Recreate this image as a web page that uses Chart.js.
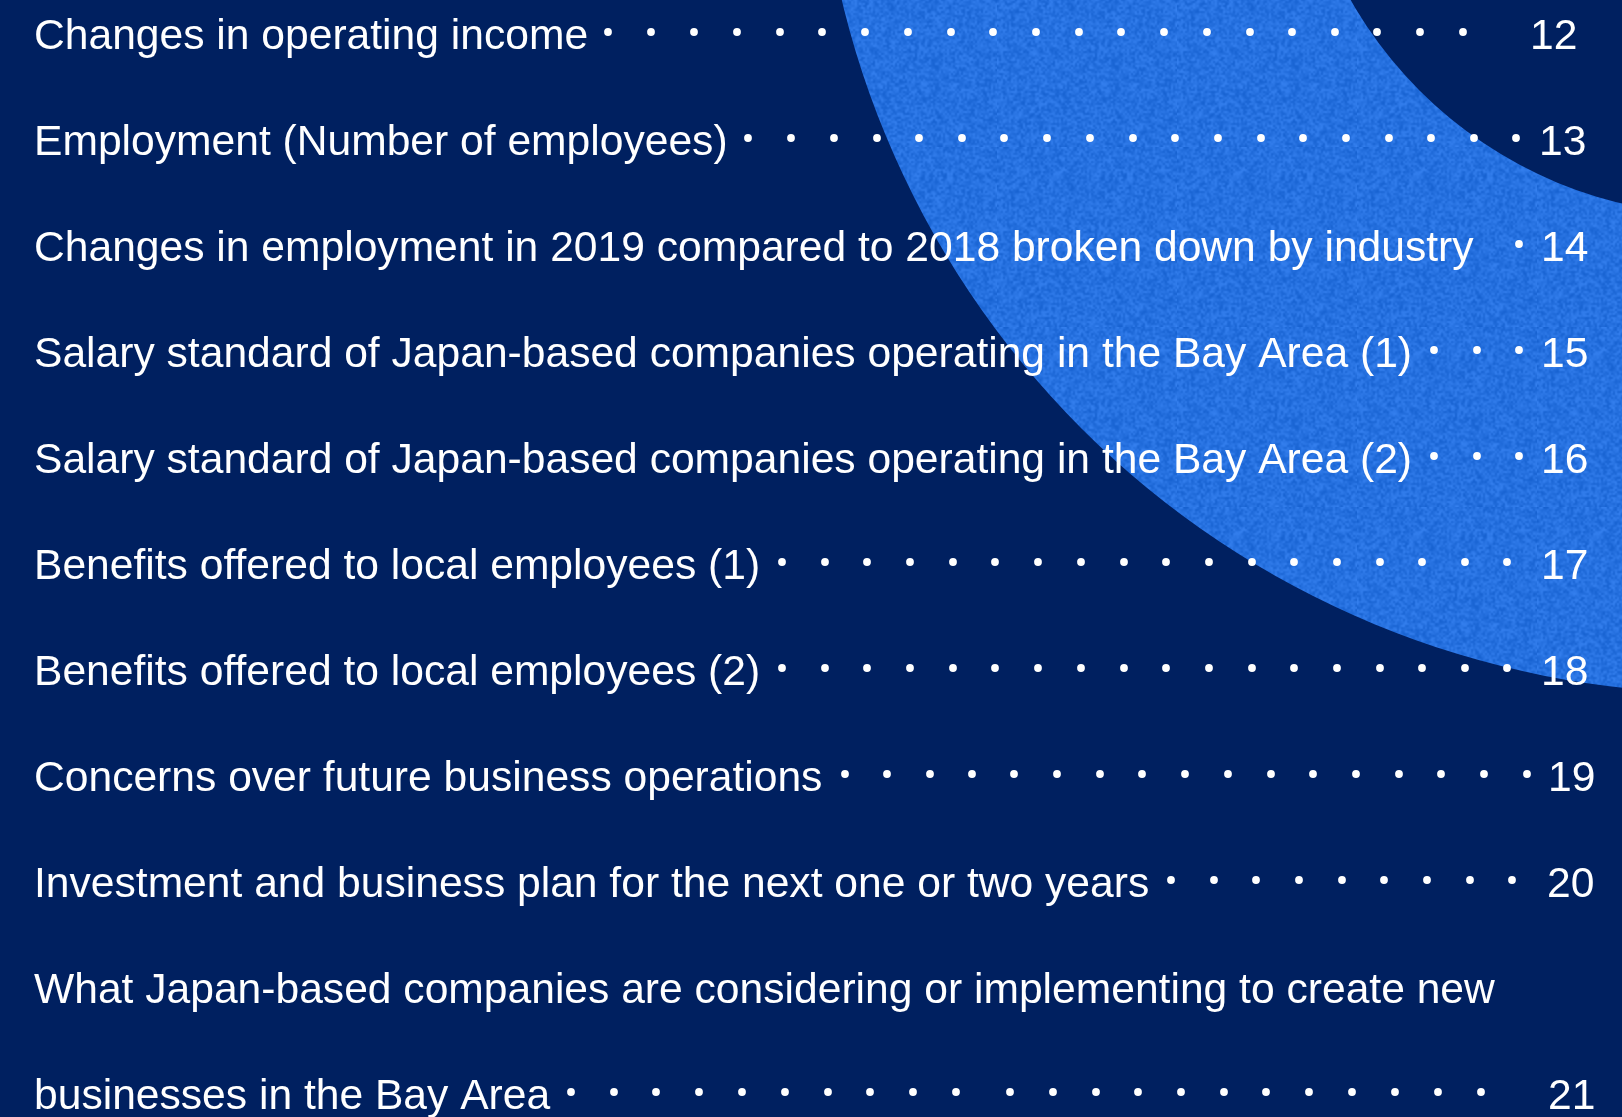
<!DOCTYPE html>
<html>
<head>
<meta charset="utf-8">
<script src="https://cdn.jsdelivr.net/npm/chart.js@4.4.0/dist/chart.umd.min.js"></script>
<style>
  html, body { margin: 0; padding: 0; background: #002060; overflow: hidden; }
  #page { position: relative; width: 1622px; height: 1117px; overflow: hidden; background: #002060; }
  #arcBox { position: absolute; left: 817px; top: -1113px; width: 1806px; height: 1806px; }
  #tocBox { position: absolute; left: 0; top: 0; width: 1622px; height: 1117px; }
</style>
</head>
<body>
<div id="page">
  <div id="arcBox"><canvas id="arc"></canvas></div>
  <div id="tocBox"><canvas id="toc"></canvas></div>
</div>
<script>
// contents entries, one per text row (row 9 is the first half of a wrapped title)
const titles = [
    'Changes in operating income',
    'Employment (Number of employees)',
    'Changes in employment in 2019 compared to 2018 broken down by industry',
    'Salary standard of Japan-based companies operating in the Bay Area (1)',
    'Salary standard of Japan-based companies operating in the Bay Area (2)',
    'Benefits offered to local employees (1)',
    'Benefits offered to local employees (2)',
    'Concerns over future business operations',
    'Investment and business plan for the next one or two years',
    'What Japan-based companies are considering or implementing to create new',
    'businesses in the Bay Area'
];
const pages = ['12', '13', '14', '15', '16', '17', '18', '19', '20', '', '21'];
const pageX = [1530, 1539, 1541, 1541, 1541, 1541, 1541, 1548, 1547, 0, 1548];

// leader dots, x along the row
const leaderDots = [
    [608, 651, 694, 737, 780, 822, 865, 908, 951, 993, 1036, 1079, 1121, 1164, 1207, 1250, 1292, 1335, 1377, 1420, 1463],
    [748, 791, 834, 877, 919, 962, 1004, 1047, 1090, 1133, 1175, 1218, 1261, 1303, 1346, 1389, 1431, 1474, 1516],
    [1519],
    [1434, 1477, 1519],
    [1434, 1477, 1519],
    [782, 825, 867, 910, 953, 995, 1038, 1081, 1124, 1166, 1209, 1252, 1294, 1337, 1380, 1422, 1465, 1507],
    [782, 825, 867, 910, 953, 995, 1038, 1081, 1124, 1166, 1209, 1252, 1294, 1337, 1380, 1422, 1465, 1507],
    [845, 887, 930, 972, 1014, 1057, 1100, 1142, 1185, 1228, 1271, 1313, 1356, 1399, 1441, 1484, 1527],
    [1171, 1214, 1256, 1299, 1342, 1384, 1427, 1470, 1512],
    [],
    [571, 614, 656, 699, 742, 785, 828, 870, 913, 956, 1010, 1053, 1096, 1138, 1181, 1224, 1266, 1309, 1352, 1395, 1438, 1481]
];

const titleX = 34;
const rowTop = 32;     // first row's dot line, px
const rowStep = 106;   // px between rows
const baselineShift = 16.5;

// grainy blue fill for the arc
function grain() {
    const small = document.createElement('canvas');
    small.width = small.height = 90;
    const sg = small.getContext('2d');
    const img = sg.createImageData(90, 90);
    let s = 12345;
    for (let p = 0; p < img.data.length; p += 4) {
        s = (s * 16807) % 2147483647;
        const n = (s / 2147483647 - 0.5) * 30;
        img.data[p] = 38 + n;
        img.data[p + 1] = 113 + n;
        img.data[p + 2] = 224 + n;
        img.data[p + 3] = 255;
    }
    sg.putImageData(img, 0, 0);
    const c = document.createElement('canvas');
    c.width = c.height = 180;
    const g = c.getContext('2d');
    g.imageSmoothingEnabled = true;
    g.drawImage(small, 0, 0, 180, 180);
    return g.createPattern(c, 'repeat');
}

new Chart(document.getElementById('arc'), {
    type: 'doughnut',
    data: {
        labels: ['arc'],
        datasets: [{
            data: [1],
            backgroundColor: grain(),
            borderWidth: 0,
            hoverOffset: 0
        }]
    },
    options: {
        responsive: true,
        maintainAspectRatio: false,
        animation: false,
        events: [],
        cutout: (425 / 903 * 100) + '%',
        layout: { padding: 0 },
        plugins: { legend: { display: false }, tooltip: { enabled: false } }
    }
});

const tocText = {
    id: 'tocText',
    afterDatasetsDraw(chart) {
        const { ctx, scales: { x, y } } = chart;
        ctx.save();
        ctx.fillStyle = '#ffffff';
        ctx.font = '42.6px "Liberation Sans", Arial, sans-serif';
        ctx.textBaseline = 'alphabetic';
        titles.forEach((t, i) => {
            const yy = y.getPixelForValue(i) + baselineShift;
            ctx.fillText(t, x.getPixelForValue(titleX), yy);
            if (pages[i]) {
                ctx.fillText(pages[i], x.getPixelForValue(pageX[i]), yy);
            }
        });
        ctx.restore();
    }
};

const dots = [];
leaderDots.forEach((row, i) => {
    row.forEach(v => dots.push({ x: v, y: i }));
});

new Chart(document.getElementById('toc'), {
    type: 'scatter',
    data: {
        datasets: [{
            label: 'leaders',
            data: dots,
            pointRadius: 3.9,
            pointBackgroundColor: '#ffffff',
            pointBorderWidth: 0
        }]
    },
    options: {
        responsive: true,
        maintainAspectRatio: false,
        animation: false,
        events: [],
        layout: { padding: 0, autoPadding: false },
        scales: {
            x: { type: 'linear', min: 0, max: 1622, display: false },
            y: { type: 'linear', min: -rowTop / rowStep, max: (1117 - rowTop) / rowStep, reverse: true, display: false }
        },
        plugins: { legend: { display: false }, tooltip: { enabled: false } }
    },
    plugins: [tocText]
});
</script>
</body>
</html>
